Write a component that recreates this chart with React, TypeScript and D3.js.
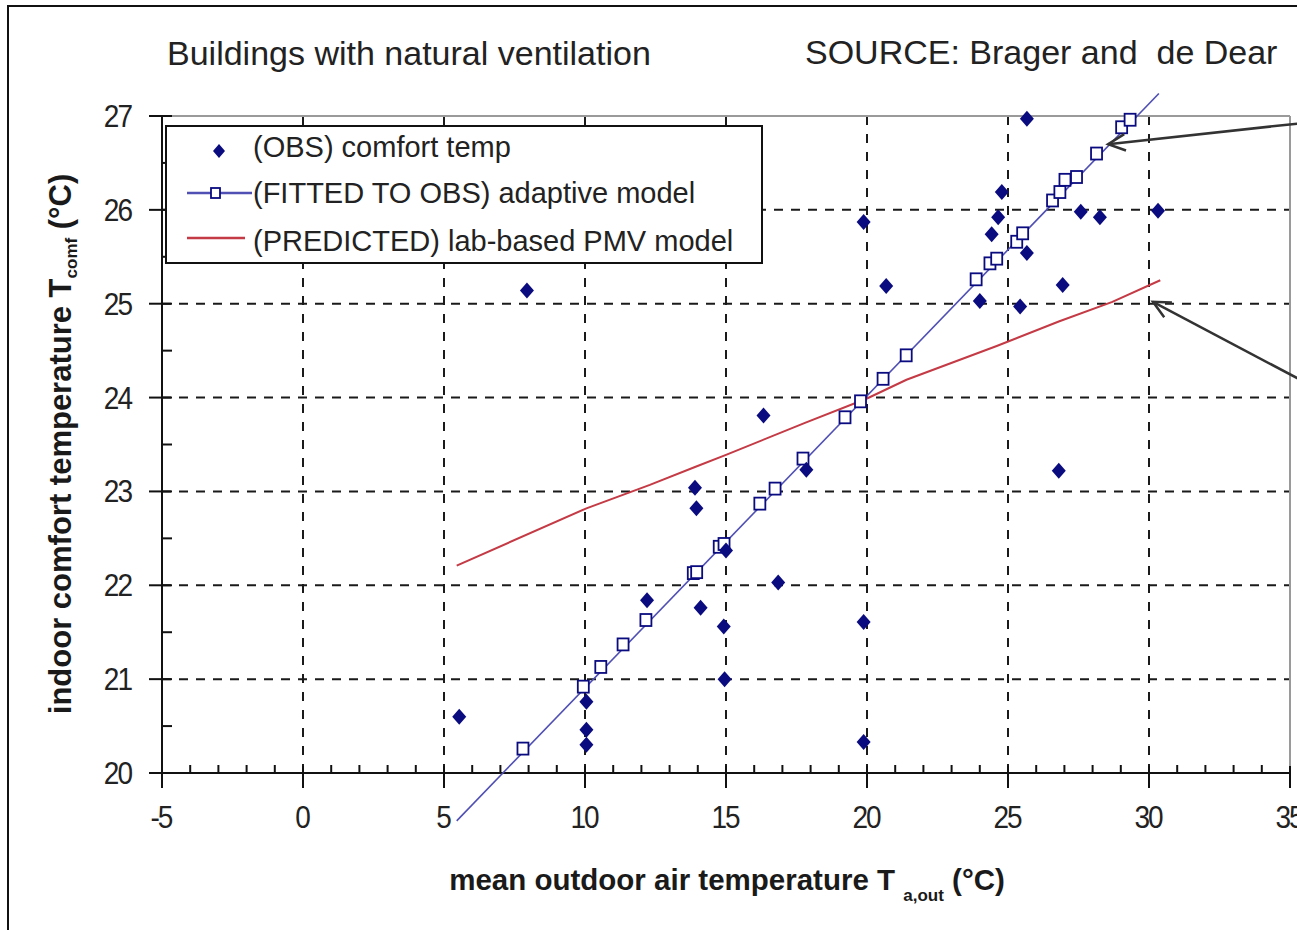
import React from 'react';
import * as d3 from 'd3';

// observed comfort temperatures (diamonds)
const obsX = [5.54, 7.94, 10.05, 10.05, 10.05, 12.2, 13.9, 13.95, 14.1, 14.92, 14.95, 15.0, 16.33, 16.85, 17.85, 19.88, 19.88, 19.88, 20.68, 24.0, 24.42, 24.65, 24.78, 25.43, 25.67, 25.67, 26.94, 26.8, 27.58, 28.26, 30.32];
const obsY = [20.6, 25.14, 20.76, 20.46, 20.3, 21.84, 23.04, 22.82, 21.76, 21.56, 21.0, 22.37, 23.81, 22.03, 23.23, 25.87, 21.61, 20.33, 25.19, 25.03, 25.74, 25.92, 26.19, 24.97, 26.97, 25.54, 25.2, 23.22, 25.98, 25.92, 25.99];

// adaptive model fitted to observations (squares + line)
const adaptX = [7.8, 9.94, 10.56, 11.35, 12.16, 13.84, 13.96, 14.76, 14.93, 16.2, 16.74, 17.73, 19.22, 19.77, 20.57, 21.39, 23.87, 24.36, 24.6, 25.31, 25.52, 26.58, 26.84, 27.02, 27.43, 28.14, 29.03, 29.33];
const adaptY = [20.26, 20.92, 21.13, 21.37, 21.63, 22.13, 22.14, 22.41, 22.44, 22.87, 23.03, 23.35, 23.79, 23.96, 24.2, 24.45, 25.26, 25.43, 25.48, 25.66, 25.75, 26.1, 26.19, 26.32, 26.35, 26.6, 26.88, 26.96];
const adaptLineX = [5.45, 30.35];
const adaptLineY = [19.49, 27.24];

// lab-based PMV prediction
const pmvX = [5.45, 10.05, 12.3, 13.9, 15.0, 17.8, 20.0, 21.4, 24.6, 26.8, 28.7, 30.4];
const pmvY = [22.21, 22.82, 23.07, 23.26, 23.39, 23.73, 23.99, 24.19, 24.55, 24.81, 25.02, 25.25];

const xTicks = [-5, 0, 5, 10, 15, 20, 25, 30, 35];
const yTicks = [20, 21, 22, 23, 24, 25, 26, 27];

// annotation arrows (tip, tail) in data units
const arrows = [
  { tip: [28.55, 26.7], tail: [35.3, 26.92] },
  { tip: [30.14, 25.02], tail: [35.3, 24.2] },
];

const FONT = '"Liberation Sans", Arial, sans-serif';
const NAVY = '#0b0b80';
const BLUE = '#4f4fb4';
const RED = '#c43a45';

const x = d3.scaleLinear().domain([-5, 35]).range([162, 1290]);
const y = d3.scaleLinear().domain([20, 27]).range([773, 116]);

const diamond = (cx: number, cy: number, r = 8) =>
  `M${cx},${cy - r}L${cx + r - 1},${cy}L${cx},${cy + r}L${cx - r + 1},${cy}Z`;

const arrowHead = (tx: number, ty: number, sx: number, sy: number, len = 19, ang = 0.45) => {
  const a = Math.atan2(sy - ty, sx - tx);
  const p1 = [tx + len * Math.cos(a + ang), ty + len * Math.sin(a + ang)];
  const p2 = [tx + len * Math.cos(a - ang), ty + len * Math.sin(a - ang)];
  return `M${p1[0]},${p1[1]}L${tx},${ty}L${p2[0]},${p2[1]}`;
};

// tick label, a little condensed / tall like the source
const TickLabel = ({ tx, ty, anchor, children }: any) => (
  <g transform={`translate(${tx},${ty}) scale(1,1.14)`}>
    <text x={0} y={0} fontSize={28} letterSpacing={-2} textAnchor={anchor} fill="#222">{children}</text>
  </g>
);

export default function App() {
  const lineGen = d3.line<[number, number]>().x(d => x(d[0])).y(d => y(d[1]));
  const pmvPath = lineGen(pmvX.map((v, i) => [v, pmvY[i]]));
  const adaptPath = lineGen(adaptLineX.map((v, i) => [v, adaptLineY[i]]));

  const xMinor = d3.range(-5, 35.01, 1).filter(v => v % 5 !== 0);
  const yMinor = d3.range(20.5, 27, 1);

  const gridX = xTicks.filter(v => v > -5 && v < 35);
  const gridY = yTicks.filter(v => v > 20 && v < 27);

  return (
    <svg width={1297} height={930} style={{ position: 'absolute', left: 0, top: 0, background: '#fff' }} fontFamily={FONT}>
      {/* outer figure frame */}
      <rect x={8} y={6} width={1320} height={960} fill="none" stroke="#111" strokeWidth={2} />

      {/* titles */}
      <text x={167} y={65} fontSize={34} fill="#222">Buildings with natural ventilation</text>
      <text x={805} y={64} fontSize={34} fill="#222" style={{ whiteSpace: 'pre' }}>SOURCE: Brager and  de Dear</text>

      {/* grid */}
      {gridX.map(v => (
        <line key={'gx' + v} x1={x(v)} x2={x(v)} y1={y(27)} y2={y(20)} stroke="#1a1a1a" strokeWidth={2} strokeDasharray="9,9" />
      ))}
      {gridY.map(v => (
        <line key={'gy' + v} x1={x(-5)} x2={x(35)} y1={y(v)} y2={y(v)} stroke="#1a1a1a" strokeWidth={2} strokeDasharray="9,8" />
      ))}

      {/* plot frame top / right */}
      <line x1={x(-5)} x2={x(35)} y1={y(27)} y2={y(27)} stroke="#9a9a9a" strokeWidth={2} />
      <line x1={x(35)} x2={x(35)} y1={y(27)} y2={y(20)} stroke="#9a9a9a" strokeWidth={2} />

      {/* axes */}
      <line x1={x(-5)} x2={x(-5)} y1={y(27)} y2={y(20)} stroke="#111" strokeWidth={2} />
      <line x1={x(-5)} x2={x(35)} y1={y(20)} y2={y(20)} stroke="#111" strokeWidth={2} />
      {yTicks.map(v => (
        <g key={'yt' + v}>
          <line x1={x(-5) - 13} x2={x(-5) + 10} y1={y(v)} y2={y(v)} stroke="#111" strokeWidth={2} />
          <TickLabel tx={131} ty={y(v) + 11} anchor="end">{v}</TickLabel>
        </g>
      ))}
      {yMinor.map(v => (
        <line key={'ym' + v} x1={x(-5)} x2={x(-5) + 10} y1={y(v)} y2={y(v)} stroke="#111" strokeWidth={2} />
      ))}
      {xTicks.map(v => (
        <g key={'xt' + v}>
          <line x1={x(v)} x2={x(v)} y1={y(20) - 7} y2={y(20) + 15} stroke="#111" strokeWidth={2} />
          <TickLabel tx={x(v) - 1} ty={828} anchor="middle">{v}</TickLabel>
        </g>
      ))}
      {xMinor.map(v => (
        <line key={'xm' + v} x1={x(v)} x2={x(v)} y1={y(20) - 8} y2={y(20)} stroke="#111" strokeWidth={2} />
      ))}

      {/* axis titles */}
      <text x={727} y={890} fontSize={29.5} fontWeight="bold" textAnchor="middle" fill="#1a1a1a">
        mean outdoor air temperature T <tspan fontSize={17} dy={11}>a,out</tspan><tspan dy={-11}> (°C)</tspan>
      </text>
      <text transform="translate(71,444) rotate(-90)" fontSize={31} fontWeight="bold" textAnchor="middle" fill="#1a1a1a">
        indoor comfort temperature T<tspan fontSize={17} dy={6}>comf</tspan><tspan dy={-6}> (°C)</tspan>
      </text>

      {/* PMV line */}
      <path d={pmvPath || ''} fill="none" stroke={RED} strokeWidth={2} />

      {/* adaptive model */}
      <path d={adaptPath || ''} fill="none" stroke={BLUE} strokeWidth={1.6} />
      {adaptX.map((v, i) => (
        <rect key={'sq' + i} x={x(v) - 5.5} y={y(adaptY[i]) - 6} width={11} height={12} fill="#fff" stroke={NAVY} strokeWidth={1.8} />
      ))}

      {/* observations */}
      {obsX.map((v, i) => (
        <path key={'ob' + i} d={diamond(x(v), y(obsY[i]))} fill={NAVY} />
      ))}

      {/* legend */}
      <rect x={166} y={126} width={596} height={137} fill="#fff" stroke="#111" strokeWidth={2} />
      <path d={diamond(219, 151, 7)} fill={NAVY} />
      <text x={253} y={157} fontSize={29} fill="#222">(OBS) comfort temp</text>
      <line x1={187} x2={252} y1={193} y2={193} stroke={BLUE} strokeWidth={2.5} />
      <rect x={211} y={188} width={9} height={10} fill="#fff" stroke={NAVY} strokeWidth={1.8} />
      <text x={253} y={203} fontSize={29} fill="#222">(FITTED TO OBS) adaptive model</text>
      <line x1={187} x2={245} y1={238} y2={238} stroke={RED} strokeWidth={2.5} />
      <text x={253} y={251} fontSize={29} fill="#222">(PREDICTED) lab-based PMV model</text>

      {/* annotation arrows */}
      {arrows.map((a, i) => {
        const tx = x(a.tip[0]), ty = y(a.tip[1]);
        const sx = x(a.tail[0]), sy = y(a.tail[1]);
        return (
          <g key={'ar' + i} stroke="#333" strokeWidth={2.5} fill="none">
            <line x1={sx} y1={sy} x2={tx} y2={ty} />
            <path d={arrowHead(tx, ty, sx, sy)} />
          </g>
        );
      })}
    </svg>
  );
}
